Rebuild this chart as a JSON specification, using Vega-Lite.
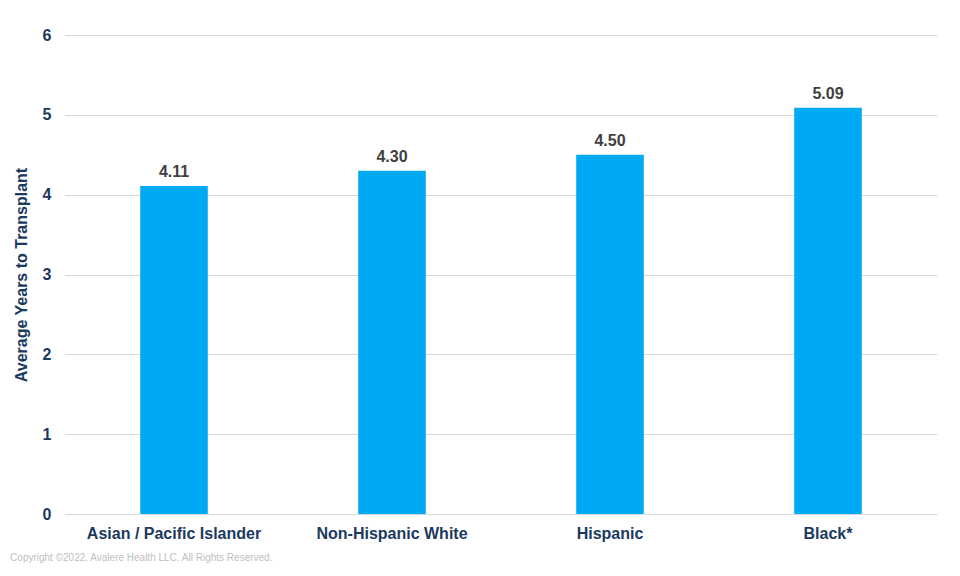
{
  "$schema": "https://vega.github.io/schema/vega-lite/v6.json",
  "width": 872,
  "height": 479,
  "autosize": {"type": "none"},
  "padding": {"left": 65, "top": 35, "right": 23, "bottom": 62},
  "background": "white",
  "config": {"view": {"stroke": null}, "font": "Liberation Sans"},
  "title": {
    "text": "Copyright ©2022. Avalere Health LLC. All Rights Reserved.",
    "orient": "bottom",
    "anchor": "start",
    "frame": "bounds",
    "fontSize": 10,
    "fontWeight": "normal",
    "color": "#C0C0C0",
    "offset": 12,
    "dx": -3
  },
  "data": {
    "values": [
      {"group": "Asian / Pacific Islander", "years": 4.11},
      {"group": "Non-Hispanic White", "years": 4.30},
      {"group": "Hispanic", "years": 4.50},
      {"group": "Black*", "years": 5.09}
    ]
  },
  "encoding": {
    "x": {
      "field": "group",
      "type": "nominal",
      "sort": null,
      "scale": {"paddingInner": 0.69, "paddingOuter": 0.345},
      "axis": {
        "title": null,
        "labelAngle": 0,
        "labelFont": "Liberation Sans",
        "labelFontSize": 16,
        "labelFontWeight": "bold",
        "labelColor": "#1B3A5E",
        "labelPadding": 11,
        "ticks": false,
        "domainColor": "#D9D9D9",
        "grid": false
      }
    },
    "y": {
      "field": "years",
      "type": "quantitative",
      "scale": {"domain": [0, 6]},
      "axis": {
        "title": "Average Years to Transplant",
        "titleFont": "Liberation Sans",
        "titleFontSize": 16,
        "titleFontWeight": "bold",
        "titleColor": "#1B3A5E",
        "titlePadding": 13,
        "values": [0, 1, 2, 3, 4, 5, 6],
        "labelFont": "Liberation Sans",
        "labelFontSize": 16,
        "labelFontWeight": "bold",
        "labelColor": "#1B3A5E",
        "labelPadding": 14,
        "ticks": false,
        "domain": false,
        "grid": true,
        "gridColor": "#D9D9D9",
        "gridWidth": 1
      }
    }
  },
  "layer": [
    {"mark": {"type": "bar", "color": "#00A9F4"}},
    {
      "mark": {"type": "text", "dy": -14, "fontSize": 16, "fontWeight": "bold", "color": "#404040", "font": "Liberation Sans"},
      "encoding": {"text": {"field": "years", "type": "quantitative", "format": ".2f"}}
    }
  ]
}
